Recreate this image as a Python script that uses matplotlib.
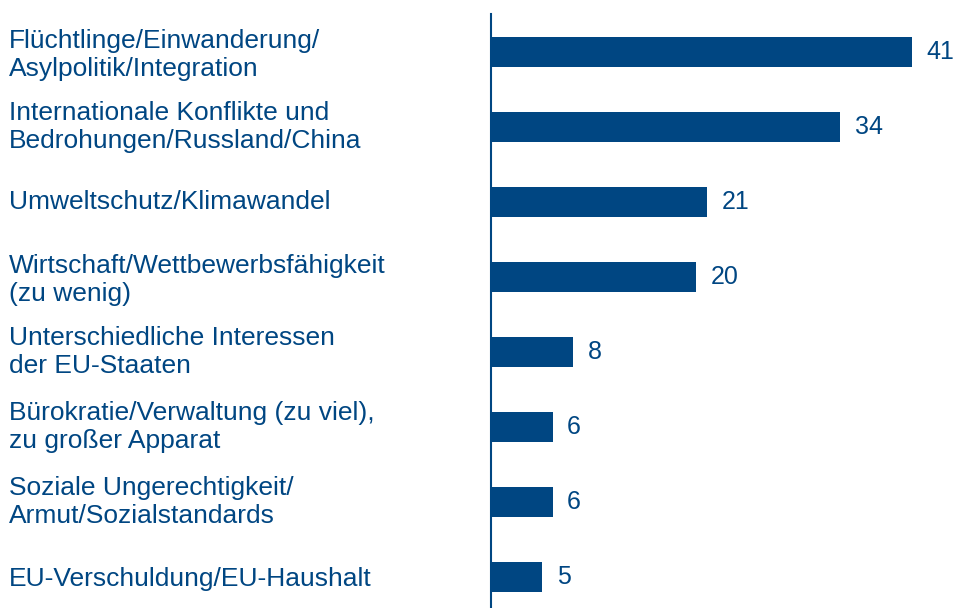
import matplotlib
matplotlib.use("Agg")
import matplotlib.pyplot as plt
import matplotlib.transforms as mtransforms

categories = [
    "Flüchtlinge/Einwanderung/\nAsylpolitik/Integration",
    "Internationale Konflikte und\nBedrohungen/Russland/China",
    "Umweltschutz/Klimawandel",
    "Wirtschaft/Wettbewerbsfähigkeit\n(zu wenig)",
    "Unterschiedliche Interessen\nder EU-Staaten",
    "Bürokratie/Verwaltung (zu viel),\nzu großer Apparat",
    "Soziale Ungerechtigkeit/\nArmut/Sozialstandards",
    "EU-Verschuldung/EU-Haushalt",
]
values = [41, 34, 21, 20, 8, 6, 6, 5]

color = "#004682"
plt.rcParams["font.family"] = ["Liberation Sans", "DejaVu Sans"]

W, H = 957, 608
fig = plt.figure(figsize=(W / 100, H / 100), dpi=100)
ax = fig.add_axes([491 / W, 0, (W - 491) / W, (608 - 14) / H])

pos = list(range(len(categories)))
ax.barh(pos, values, height=0.4, color=color)
ax.set_ylim(556 / 75, -38 / 75)
ax.set_xlim(0, (W - 491) / 10.27)

for p, v in zip(pos, values):
    ax.annotate(str(v), (v, p), xytext=(10.5, 0), textcoords="offset points",
                va="center", ha="left", fontsize=18, color=color)

trans = mtransforms.blended_transform_factory(fig.transFigure, ax.transData)
label_offsets = [0.04, 0, 0, 0.04, 0, 0, 0, 0.03]
for p, c, o in zip(pos, categories, label_offsets):
    ax.text(9 / W, p + o, c, transform=trans, ha="left", va="center",
            fontsize=19, color=color, linespacing=1.17)

for s in ["top", "right", "bottom"]:
    ax.spines[s].set_visible(False)
ax.spines["left"].set_color(color)
ax.spines["left"].set_linewidth(1.5)
ax.set_xticks([])
ax.set_yticks([])

fig.savefig("out.png", dpi=100)
